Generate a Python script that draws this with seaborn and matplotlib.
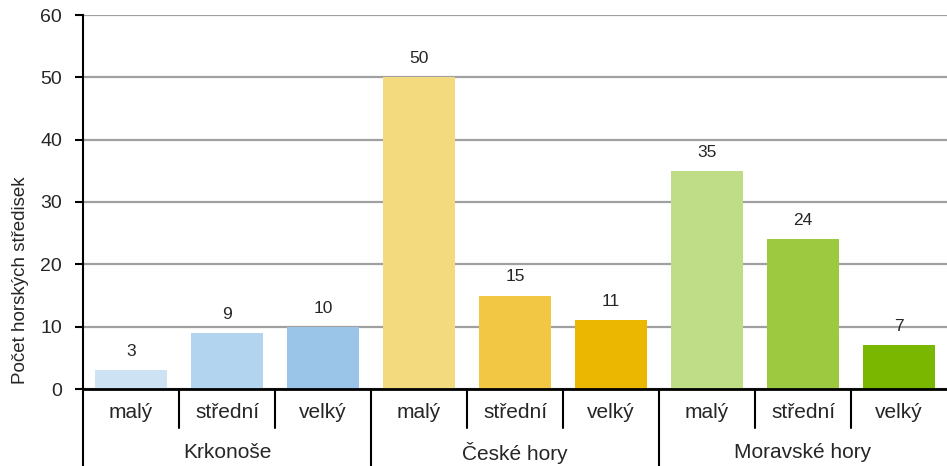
import matplotlib
matplotlib.use("Agg")
import matplotlib.pyplot as plt
import matplotlib.transforms as mtransforms
import seaborn as sns
import pandas as pd

regions = ["Krkonoše", "České hory", "Moravské hory"]
sizes = ["malý", "střední", "velký"]
values = [3, 9, 10, 50, 15, 11, 35, 24, 7]
colors = ["#CDE2F2", "#B3D4EE", "#9BC5E8",
          "#F4DA7E", "#F2C743", "#EBB700",
          "#BFDC87", "#9DC940", "#79B700"]
y_ticks = [0, 10, 20, 30, 40, 50, 60]
y_label = "Počet horských středisek"

sns.set_theme(style="white")
plt.rcParams["font.family"] = ["Liberation Sans", "DejaVu Sans"]

keys = [f"{r}|{s}" for r in regions for s in sizes]
df = pd.DataFrame({"key": keys, "value": values,
                   "size": [s for r in regions for s in sizes]})

fig = plt.figure(figsize=(9.47, 4.66), dpi=100)
ax = fig.add_axes([83 / 947, 1 - 389 / 466, 1 - 83 / 947, 374 / 466])

sns.barplot(data=df, x="key", y="value", hue="key", palette=colors,
            order=keys, width=0.75, legend=False, ax=ax, saturation=1,
            linewidth=0, edgecolor="none", zorder=3)

ax.set_ylim(0, 60)
ax.set_xlim(-0.5, len(keys) - 0.5)
ax.set_yticks(y_ticks)
ax.set_yticklabels([str(t) for t in y_ticks], fontsize=14)
ax.yaxis.grid(True, color="#A0A0A0", linewidth=1.6, zorder=0)
ax.set_axisbelow(True)
ax.tick_params(axis="y", left=True, length=6, width=1.5, color="black", pad=9)
ax.set_xticks([])
ax.set_xlabel("")
ax.set_ylabel(y_label, fontsize=13.5)
ax.yaxis.set_label_coords(-0.063, 0.29)

for s in ["top", "right"]:
    ax.spines[s].set_visible(False)
ax.spines["left"].set_color("black")
ax.spines["left"].set_linewidth(1.5)
ax.spines["bottom"].set_color("black")
ax.spines["bottom"].set_linewidth(2)
ax.spines["bottom"].set_zorder(5)

for c in ax.containers:
    ax.bar_label(c, labels=[str(int(v)) for v in c.datavalues], padding=8,
                 fontsize=12.5)

trans = mtransforms.blended_transform_factory(ax.transData, ax.transAxes)
h_px = 374
inner = -39 / h_px
outer = -80 / h_px
for i in range(len(keys)):
    ax.text(i, -23 / h_px, df["size"][i], transform=trans, ha="center",
            va="center", fontsize=15)
    if i > 0:
        is_group = i % 3 == 0
        ax.plot([i - 0.5, i - 0.5], [0, outer if is_group else inner],
                transform=trans, color="black", linewidth=1.5, clip_on=False)
ax.plot([-0.5, -0.5], [0, outer], transform=trans, color="black",
        linewidth=1.5, clip_on=False)
for g, r in enumerate(regions):
    ax.text(g * 3 + 1, -64 / h_px, r, transform=trans, ha="center",
            va="center", fontsize=15)

fig.savefig("out.png", dpi=100)
